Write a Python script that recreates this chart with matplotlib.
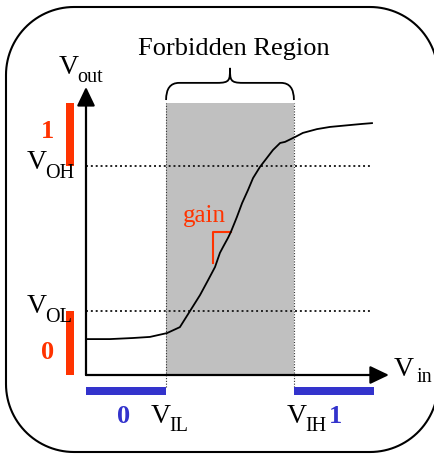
import matplotlib
matplotlib.use("Agg")
import matplotlib.pyplot as plt
import numpy as np
from matplotlib.patches import PathPatch
from matplotlib.path import Path

plt.rcParams['font.family'] = ['Liberation Serif', 'DejaVu Serif']

# transfer curve of an inverter-like device (Vin, Vout, normalised)
vin = [0.003, 0.083, 0.163, 0.222, 0.281, 0.326, 0.361, 0.396, 0.424, 0.448,
       0.465, 0.476, 0.493, 0.503, 0.517, 0.524, 0.542, 0.5625, 0.580, 0.604,
       0.628, 0.649, 0.674, 0.691, 0.726, 0.753, 0.802, 0.847, 0.917, 0.958, 0.993]
vout = [0.132, 0.132, 0.136, 0.140, 0.154, 0.176, 0.235, 0.294, 0.349, 0.397,
        0.449, 0.471, 0.504, 0.526, 0.5625, 0.581, 0.632, 0.680, 0.724, 0.765,
        0.798, 0.827, 0.853, 0.857, 0.875, 0.890, 0.904, 0.912, 0.919, 0.923, 0.926]

# thresholds
V_IL, V_IH = 0.278, 0.722
V_OL, V_OH = 0.235, 0.768
V_MAX = 1.0

# gain marker (right-angle tick on the curve)
gain_x = [0.442, 0.442, 0.503]
gain_y = [0.412, 0.527, 0.527]

RED = '#FF3300'
BLUE = '#3333CC'
GRAY = '#C0C0C0'

fig = plt.figure(figsize=(4.35, 4.54), dpi=100)

# background axes in picture pixels, just for the rounded frame
bg = fig.add_axes([0, 0, 1, 1], zorder=0)
bg.set_xlim(0, 435)
bg.set_ylim(454, 0)
bg.axis('off')


def rounded_frame(x0, y0, x1, y1, rad):
    # circular corners (y grows downward in bg)
    pts = []
    corners = [(x1 - rad, y0 + rad, -90, 0), (x1 - rad, y1 - rad, 0, 90),
               (x0 + rad, y1 - rad, 90, 180), (x0 + rad, y0 + rad, 180, 270)]
    for cx, cy, a0, a1 in corners:
        t = np.radians(np.linspace(a0, a1, 30))
        pts += list(zip(cx + rad * np.cos(t), cy + rad * np.sin(t)))
    pts.append(pts[0])
    return Path(pts)


bg.add_patch(PathPatch(rounded_frame(6, 7, 438, 452, 68), fill=False, lw=1.5,
                       ec='black', clip_on=False))

ax = fig.add_axes([0, 0, 1, 1], zorder=1)
ax.set_xlim(-86 / 288, (435 - 86) / 288)
ax.set_ylim((375 - 454) / 272, 375 / 272)
ax.axis('off')

# forbidden region
ax.fill_between([V_IL, V_IH], 0, V_MAX, color=GRAY, lw=0, zorder=1)
for xv in (V_IL, V_IH):
    ax.plot([xv, xv], [-0.044, V_MAX], color='#333333', lw=0.8,
            linestyle=(0, (1, 1.5)), zorder=2)

# VOH / VOL levels
for yv in (V_OH, V_OL):
    ax.plot([0, vin[-1]], [yv, yv], color='#222222', lw=1.4,
            linestyle=(0, (1, 1.5)), zorder=2)

# valid logic ranges
bar_w = 8 / 288
bar_h = 8 / 272
ax.bar([-0.0556, -0.0556], [V_MAX - V_OH, V_OL], bottom=[V_OH, 0],
       width=bar_w, color=RED, zorder=3)
ax.barh([-0.0588, -0.0588], [V_IL, V_MAX - V_IH], left=[0, V_IH],
        height=bar_h, color=BLUE, zorder=3)

# axes with arrows
arrow = dict(arrowstyle='-|>,head_length=1.15,head_width=0.55', lw=1.6,
             color='black', mutation_scale=10, shrinkA=0, shrinkB=0)
ax.annotate('', xy=(0, 1.059), xytext=(0, 0), arrowprops=arrow, zorder=4)
ax.annotate('', xy=(1.052, 0), xytext=(0, 0), arrowprops=arrow, zorder=4)

# transfer curve
ax.plot(vin, vout, color='black', lw=1.3, zorder=5, solid_joinstyle='round')

# gain marker
ax.plot(gain_x, gain_y, color=RED, lw=1.5, zorder=4)
ax.text(0.337, 0.5625, 'gain', color=RED, fontsize=18, va='baseline', ha='left')

# brace over the forbidden region
mid = (V_IL + V_IH) / 2
y_end, y_bar, y_tip = 1.011, 1.074, 1.129
r = 0.045
verts = [(V_IL, y_end), (V_IL, y_bar), (V_IL + r, y_bar),
         (mid - r, y_bar),
         (mid, y_bar), (mid, y_bar + 0.01), (mid, y_tip),
         (mid, y_bar + 0.01), (mid, y_bar), (mid + r, y_bar),
         (V_IH - r, y_bar),
         (V_IH, y_bar), (V_IH, y_end)]
codes = [Path.MOVETO, Path.CURVE3, Path.CURVE3,
         Path.LINETO,
         Path.CURVE4, Path.CURVE4, Path.CURVE4,
         Path.CURVE4, Path.CURVE4, Path.CURVE4,
         Path.LINETO,
         Path.CURVE3, Path.CURVE3]
ax.add_patch(PathPatch(Path(verts, codes), fill=False, lw=1.3, ec='black'))
ax.text(0.514, 1.176, 'Forbidden Region', fontsize=19, ha='center', va='baseline')


def vlabel(x, y, sub, x_sub, y_sub):
    ax.text(x, y, 'V', fontsize=20, ha='left', va='baseline')
    ax.text(x_sub + 0.007, y_sub, sub, fontsize=14.5, ha='left', va='baseline')


vlabel(-0.094, 1.107, 'out', -0.038, 1.077)
vlabel(-0.205, 0.757, 'OH', -0.149, 0.724)
vlabel(-0.205, 0.228, 'OL', -0.149, 0.195)
vlabel(0.226, -0.176, 'IL', 0.281, -0.206)
vlabel(0.698, -0.176, 'IH', 0.753, -0.206)
vlabel(1.069, -0.004, 'in', 1.139, -0.026)

# logic value labels
ax.text(-0.133, 0.871, '1', color=RED, fontsize=19, fontweight='bold',
        ha='center', va='baseline')
ax.text(-0.133, 0.059, '0', color=RED, fontsize=19, fontweight='bold',
        ha='center', va='baseline')
ax.text(0.130, -0.176, '0', color=BLUE, fontsize=19, fontweight='bold',
        ha='center', va='baseline')
ax.text(0.868, -0.176, '1', color=BLUE, fontsize=19, fontweight='bold',
        ha='center', va='baseline')

fig.savefig('out.png', dpi=100)
